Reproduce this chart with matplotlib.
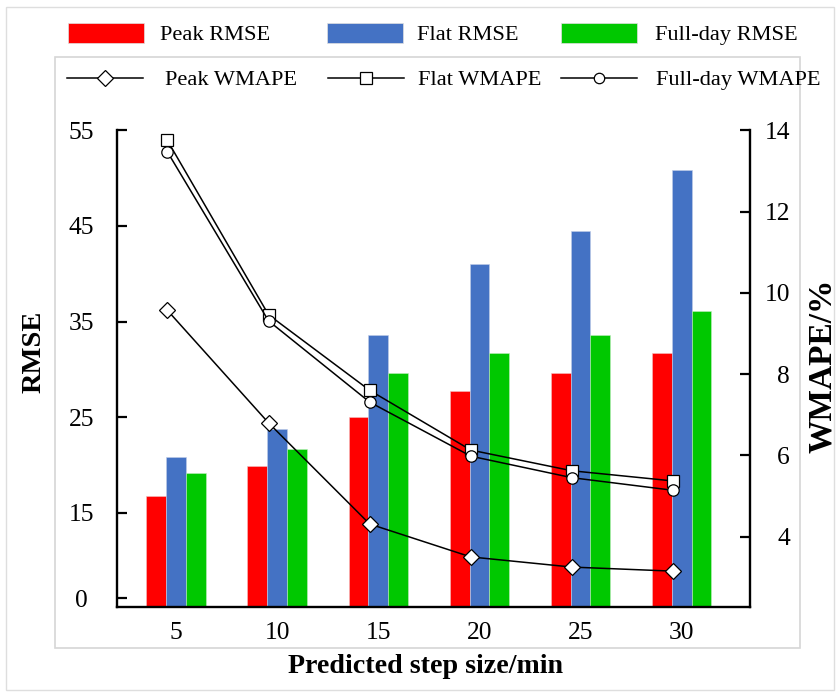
import numpy as np
import matplotlib
matplotlib.use("Agg")
import matplotlib.pyplot as plt
from matplotlib.patches import Rectangle, Patch
from matplotlib.lines import Line2D

plt.rcParams['font.family'] = ['Liberation Serif', 'DejaVu Serif']

# ---------------- data ----------------
categories = ['5', '10', '15', '20', '25', '30']
peak_rmse = [16.8, 19.9, 25.0, 27.7, 29.6, 31.7]
flat_rmse = [20.9, 23.8, 33.6, 41.0, 44.5, 50.9]
full_rmse = [19.2, 21.7, 29.6, 31.7, 33.6, 36.1]
peak_wmape = [9.57, 6.80, 4.31, 3.50, 3.25, 3.15]
flat_wmape = [13.75, 9.46, 7.60, 6.13, 5.62, 5.37]
full_wmape = [13.47, 9.31, 7.31, 5.98, 5.45, 5.14]
left_ticks = [6.1, 15, 25, 35, 45, 55]
left_tick_labels = ['0', '15', '25', '35', '45', '55']
right_ticks = [4, 6, 8, 10, 12, 14]
right_tick_labels = ['4', '6', '8', '10', '12', '14']

W, H = 840, 695
fig = plt.figure(figsize=(W / 100, H / 100), dpi=100)

def fx(px):
    return px / W

def fy(py):
    return (H - py) / H

L, R, T, B = 117, 750, 130.3, 606.7
ax = fig.add_axes([fx(L), fy(B), (R - L) / W, (B - T) / H])

x = np.arange(len(categories))
w = 0.196
red, blue, green = '#FF0000', '#4472C4', '#00C800'
ax.bar(x - w, peak_rmse, w, color=red, edgecolor='#f4c0c0', linewidth=0.4, zorder=2)
ax.bar(x, flat_rmse, w, color=blue, edgecolor='#c0cce8', linewidth=0.4, zorder=2)
ax.bar(x + w, full_rmse, w, color=green, edgecolor='#c0ecc0', linewidth=0.4, zorder=2)

ax.set_xlim(-0.583, 5.675)
ax.set_ylim(5.2, 55)
ax.set_xticks(x)
ax.set_xticklabels(categories)
ax.set_yticks(left_ticks)
ax.set_yticklabels(left_tick_labels)

tick_fs = 18.4
ax.tick_params(axis='x', length=0, pad=11, labelsize=tick_fs)
ax.tick_params(axis='y', direction='in', length=7.2, width=1.6, pad=25.6, labelsize=tick_fs)
for lab in ax.get_yticklabels():
    lab.set_horizontalalignment('center')
ax.yaxis.get_major_ticks()[0].tick1line.set_visible(False)

for s in ['top', 'right']:
    ax.spines[s].set_visible(False)
for s in ['left', 'bottom']:
    ax.spines[s].set_linewidth(1.7)

ax2 = ax.twinx()
shift = -0.085
mk = dict(markerfacecolor='white', markeredgecolor='black', markeredgewidth=0.9)
ax2.plot(x + shift, peak_wmape, color='black', lw=1.1, marker='D', markersize=8.6, zorder=3, **mk)
ax2.plot(x + shift, flat_wmape, color='black', lw=1.1, marker='s', markersize=8.8, zorder=3, **mk)
ax2.plot(x + shift, full_wmape, color='black', lw=1.1, marker='o', markersize=8.2, zorder=3, **mk)
ax2.set_ylim(2.275, 14)
ax2.set_yticks(right_ticks)
ax2.set_yticklabels(right_tick_labels)
ax2.tick_params(axis='y', direction='in', length=7.2, width=1.6, pad=28.8, labelsize=tick_fs)
for lab in ax2.get_yticklabels():
    lab.set_horizontalalignment('right')
for s in ['top', 'left', 'bottom']:
    ax2.spines[s].set_visible(False)
ax2.spines['right'].set_linewidth(1.7)

# axis labels
ax.set_xlabel('Predicted step size/min', fontsize=20.2, fontweight='bold', va='center')
ax.xaxis.set_label_coords((426 - L) / (R - L), (B - 666.7) / (B - T))
fig.text(fx(34.3), fy(351.5), 'RMSE', rotation=90, fontsize=20.5, fontweight='bold',
         ha='center', va='center')
fig.text(fx(822), fy(366), 'WMAPE/%', rotation=90, fontsize=24, fontweight='bold',
         ha='center', va='center')

# decorative frames
fig.add_artist(Rectangle((fx(55), fy(648)), (800 - 55) / W, (648 - 57.3) / H,
                         transform=fig.transFigure, fill=False, edgecolor='#d6d6d6', lw=1.2))
fig.add_artist(Rectangle((fx(6), fy(690)), (834 - 6) / W, (690 - 7) / H,
                         transform=fig.transFigure, fill=False, edgecolor='#dedede', lw=1.0))

# legends (one entry per legend for exact placement)
leg_fs = 16.1
row1 = [(Patch(facecolor=red, edgecolor='#e0e0e0', lw=0.5), 'Peak RMSE', 67.7, 0.75),
        (Patch(facecolor=blue, edgecolor='#e0e0e0', lw=0.5), 'Flat RMSE', 326.7, 0.65),
        (Patch(facecolor=green, edgecolor='#e0e0e0', lw=0.5), 'Full-day RMSE', 561, 0.8)]
for h, lab, px, pad in row1:
    fig.legend(handles=[h], labels=[lab], loc='center left', bbox_to_anchor=(fx(px), fy(34)),
               bbox_transform=fig.transFigure, frameon=False, borderpad=0, borderaxespad=0,
               handlelength=3.4, handleheight=1.04, handletextpad=pad, fontsize=leg_fs)

row2 = [(Line2D([], [], color='black', lw=1.1, marker='D', markersize=8.6, **mk), 'Peak WMAPE', 66.7, 1.0),
        (Line2D([], [], color='black', lw=1.1, marker='s', markersize=8.0, **mk), 'Flat WMAPE', 328, 0.62),
        (Line2D([], [], color='black', lw=1.1, marker='o', markersize=7.5, **mk), 'Full-day WMAPE', 561, 0.85)]
for h, lab, px, pad in row2:
    fig.legend(handles=[h], labels=[lab], loc='center left', bbox_to_anchor=(fx(px), fy(80)),
               bbox_transform=fig.transFigure, frameon=False, borderpad=0, borderaxespad=0,
               handlelength=3.4, handletextpad=pad, numpoints=1, fontsize=leg_fs)

fig.savefig('out.png', dpi=100)
